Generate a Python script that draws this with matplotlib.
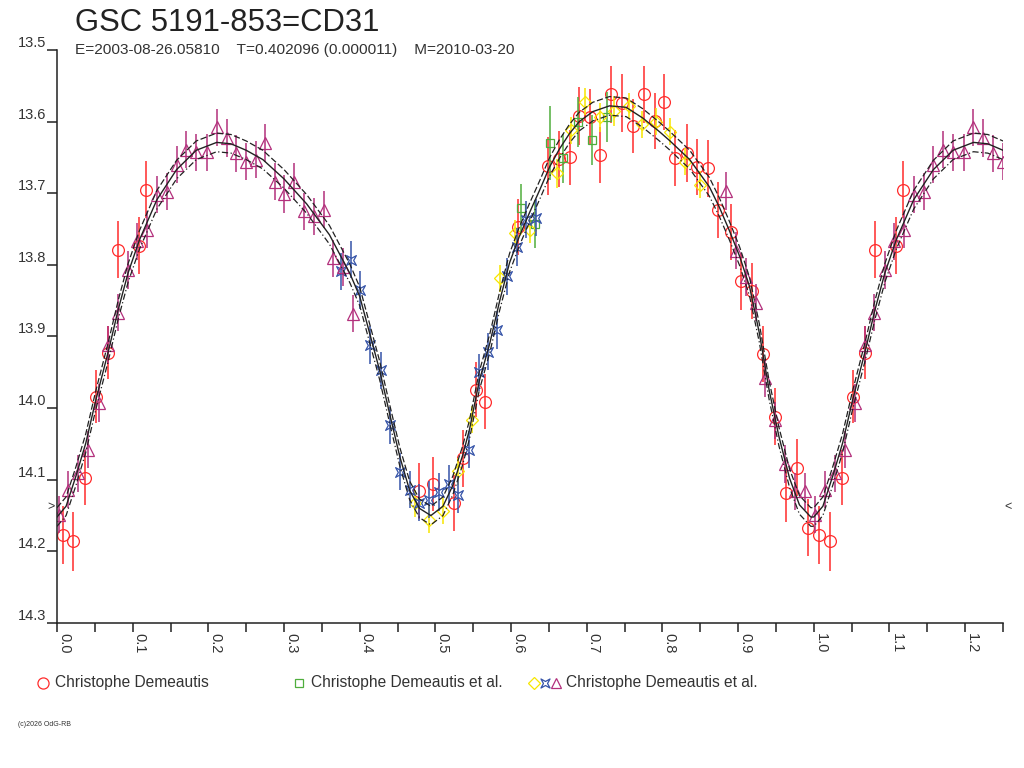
import numpy as np
import matplotlib
matplotlib.use('Agg')
import matplotlib.pyplot as plt
from matplotlib.path import Path
from matplotlib.markers import MarkerStyle

TITLE = 'GSC 5191-853=CD31'
SUBTITLE = 'E=2003-08-26.05810    T=0.402096 (0.000011)    M=2010-03-20'
COPYRIGHT = '(c)2026 OdG-RB'
OBSERVER_1 = 'Christophe Demeautis'
OBSERVER_2 = 'Christophe Demeautis et al.'
OBSERVER_3 = 'Christophe Demeautis et al.'

X_MAX = 1.25
MIN_MARK = 14.138  # the little > < marks on both sides

# model light curve (solid), phase 0..1
model_phase = [0.000, 0.012, 0.025, 0.038, 0.051, 0.068, 0.081, 0.094, 0.109, 0.132,
               0.158, 0.184, 0.211, 0.230, 0.250, 0.272, 0.300, 0.330, 0.360, 0.387,
               0.400, 0.413, 0.426, 0.440, 0.453, 0.466, 0.479, 0.494, 0.510, 0.523,
               0.536, 0.545, 0.558, 0.572, 0.585, 0.598, 0.611, 0.624, 0.638, 0.651,
               0.664, 0.677, 0.690, 0.708, 0.730, 0.752, 0.774, 0.796, 0.809, 0.836,
               0.862, 0.875, 0.888, 0.902, 0.915, 0.928, 0.941, 0.954, 0.968, 0.981,
               0.996]
model_mag = [14.152, 14.137, 14.095, 14.049, 13.990, 13.920, 13.862, 13.811, 13.765, 13.709,
             13.667, 13.640, 13.629, 13.631, 13.640, 13.653, 13.680, 13.715, 13.758, 13.812,
             13.844, 13.895, 13.946, 14.010, 14.068, 14.115, 14.140, 14.150, 14.137, 14.108,
             14.066, 14.030, 13.962, 13.909, 13.850, 13.797, 13.760, 13.728, 13.695, 13.663,
             13.638, 13.617, 13.600, 13.586, 13.578, 13.580, 13.595, 13.614, 13.626, 13.653,
             13.691, 13.719, 13.751, 13.788, 13.830, 13.895, 13.975, 14.040, 14.098, 14.135,
             14.152]
model_sigma = 0.013

# red circles
red_phase = [0.0075, 0.0215, 0.037, 0.0515, 0.067, 0.081, 0.1087, 0.1175, 0.478, 0.4964,
             0.524, 0.536, 0.553, 0.566, 0.609, 0.6486, 0.6627, 0.678, 0.690, 0.7046,
             0.718, 0.732, 0.747, 0.761, 0.775, 0.790, 0.8026, 0.816, 0.832, 0.846,
             0.860, 0.873, 0.890, 0.904, 0.919, 0.933, 0.949, 0.9633, 0.978, 0.992]
red_mag = [14.177, 14.186, 14.097, 13.984, 13.923, 13.779, 13.773, 13.695, 14.116, 14.106,
           14.133, 14.070, 13.974, 13.991, 13.747, 13.662, 13.652, 13.650, 13.592, 13.594,
           13.646, 13.562, 13.574, 13.606, 13.562, 13.599, 13.572, 13.651, 13.644, 13.663,
           13.665, 13.723, 13.754, 13.823, 13.836, 13.924, 14.012, 14.119, 14.083, 14.167]
red_err = [0.040, 0.041, 0.038, 0.037, 0.037, 0.040, 0.040, 0.040, 0.039, 0.038,
           0.039, 0.040, 0.038, 0.038, 0.039, 0.040, 0.039, 0.039, 0.040, 0.039,
           0.039, 0.040, 0.040, 0.038, 0.040, 0.039, 0.039, 0.039, 0.040, 0.039,
           0.040, 0.039, 0.039, 0.040, 0.039, 0.039, 0.040, 0.040, 0.040, 0.040]

# green squares
green_phase = [0.6134, 0.632, 0.651, 0.669, 0.689, 0.7067, 0.7265]
green_mag = [13.721, 13.743, 13.630, 13.651, 13.600, 13.626, 13.594]
green_err = [0.034, 0.034, 0.052, 0.034, 0.035, 0.035, 0.035]

# yellow diamonds
yellow_phase = [0.4726, 0.492, 0.510, 0.530, 0.549, 0.586, 0.6046, 0.6244, 0.661, 0.6795,
                0.698, 0.7177, 0.7366, 0.7555, 0.773, 0.792, 0.8106, 0.830, 0.849]
yellow_mag = [14.133, 14.156, 14.143, 14.088, 14.016, 13.819, 13.756, 13.751, 13.672, 13.612,
              13.572, 13.594, 13.585, 13.578, 13.604, 13.600, 13.614, 13.656, 13.688]
yellow_err = [0.019, 0.019, 0.019, 0.019, 0.019, 0.019, 0.019, 0.019, 0.020, 0.019,
              0.019, 0.020, 0.021, 0.018, 0.019, 0.019, 0.019, 0.019, 0.019]

# blue stars
blue_phase = [0.375, 0.388, 0.401, 0.414, 0.428, 0.440, 0.453, 0.466, 0.478, 0.4915,
              0.5047, 0.5175, 0.530, 0.544, 0.557, 0.569, 0.582, 0.595, 0.608, 0.620,
              0.633]
blue_mag = [13.809, 13.793, 13.835, 13.912, 13.947, 14.024, 14.089, 14.114, 14.132, 14.128,
            14.117, 14.106, 14.121, 14.058, 13.950, 13.921, 13.891, 13.816, 13.775, 13.737,
            13.734]
blue_err = [0.026, 0.026, 0.026, 0.026, 0.026, 0.026, 0.026, 0.026, 0.026, 0.026,
            0.026, 0.026, 0.026, 0.026, 0.026, 0.026, 0.026, 0.026, 0.026, 0.026,
            0.026]

# purple triangles
purple_phase = [0.002, 0.015, 0.028, 0.041, 0.055, 0.068, 0.080, 0.094, 0.106, 0.119,
                0.132, 0.145, 0.158, 0.171, 0.184, 0.198, 0.211, 0.224, 0.237, 0.250,
                0.263, 0.275, 0.288, 0.300, 0.313, 0.3265, 0.340, 0.353, 0.365, 0.378,
                0.391, 0.884, 0.897, 0.910, 0.9237, 0.936, 0.949, 0.962, 0.9756, 0.9888]
purple_mag = [14.149, 14.114, 14.091, 14.058, 13.993, 13.912, 13.867, 13.807, 13.767, 13.751,
              13.702, 13.698, 13.660, 13.639, 13.643, 13.643, 13.608, 13.623, 13.644, 13.656,
              13.653, 13.630, 13.684, 13.701, 13.684, 13.725, 13.732, 13.723, 13.791, 13.803,
              13.868, 13.697, 13.780, 13.817, 13.853, 13.958, 14.017, 14.078, 14.116, 14.116]
purple_err = [0.026, 0.026, 0.026, 0.026, 0.026, 0.026, 0.026, 0.026, 0.026, 0.026,
              0.026, 0.026, 0.026, 0.026, 0.026, 0.026, 0.026, 0.026, 0.026, 0.026,
              0.026, 0.026, 0.026, 0.026, 0.026, 0.026, 0.026, 0.026, 0.026, 0.026,
              0.026, 0.026, 0.026, 0.026, 0.026, 0.026, 0.026, 0.026, 0.026, 0.026]

RED = '#ff2b2b'
GREEN = '#4fae3c'
YELLOW = '#f7e600'
BLUE = '#3553a8'
PURPLE = '#b3307c'
INK = '#222222'

star_path = Path([(1, 1), (0, 0.45), (-1, 1), (-0.45, 0), (-1, -1), (0, -0.45),
                  (1, -1), (0.45, 0), (1, 1)], closed=True)
STAR = MarkerStyle(star_path)


def fold(phase, *cols):
    # the chart repeats phases 0..0.25 after 1.0
    phase = np.asarray(phase)
    keep = phase + 1 <= X_MAX + 0.001
    out = [np.concatenate([phase, phase[keep] + 1])]
    for c in cols:
        c = np.asarray(c)
        out.append(np.concatenate([c, c[keep]]))
    return out


plt.rcParams['font.family'] = ['Liberation Sans', 'DejaVu Sans']

fig = plt.figure(figsize=(10.24, 7.68), dpi=100)
ax = fig.add_axes([57 / 1024, 1 - 623 / 768, 946 / 1024, 573 / 768])

series = [
    (red_phase, red_mag, red_err, RED, 'o', 8.5),
    (green_phase, green_mag, green_err, GREEN, 's', 6),
    (yellow_phase, yellow_mag, yellow_err, YELLOW, 'D', 6.5),
    (blue_phase, blue_mag, blue_err, BLUE, STAR, 7),
    (purple_phase, purple_mag, purple_err, PURPLE, '^', 8.5),
]
for ph, mg, er, col, mk, ms in series:
    x, y, e = fold(ph, mg, er)
    ax.errorbar(x, y, yerr=e, fmt='none', ecolor=col, elinewidth=1.1, capsize=0, zorder=2)
    ax.plot(x, y, linestyle='none', marker=mk, markersize=ms, mfc='none',
            mec=col, mew=0.9, zorder=2)

mx, my = fold(model_phase, model_mag)
order = np.argsort(mx)
mx, my = mx[order], my[order]
# include the curve beyond 0.25 for the right edge, the axes clip it
extra = (np.asarray(model_phase) > 0.25) & (np.asarray(model_phase) < 0.3)
mx = np.concatenate([mx, np.asarray(model_phase)[extra] + 1])
my = np.concatenate([my, np.asarray(model_mag)[extra]])
ax.plot(mx, my, color=INK, lw=1.0, zorder=3)
ax.plot(mx, my - model_sigma, color=INK, lw=0.9, ls=(0, (5, 2)), zorder=3)
ax.plot(mx, my + model_sigma, color=INK, lw=0.9, ls=(0, (5, 2, 1, 2)), zorder=3)

ax.set_xlim(0, X_MAX)
ax.set_ylim(14.3, 13.5)

for s in ['top', 'right']:
    ax.spines[s].set_visible(False)
for s in ['left', 'bottom']:
    ax.spines[s].set_linewidth(1.1)
    ax.spines[s].set_color(INK)

ax.set_yticks(np.round(np.arange(13.5, 14.31, 0.1), 1))
ax.set_yticklabels(['%.1f' % v for v in np.arange(13.5, 14.31, 0.1)])
ax.set_xticks(np.round(np.arange(0, 1.21, 0.1), 1))
ax.set_xticklabels(['%.1f' % v for v in np.arange(0, 1.21, 0.1)])
ax.set_xticks(np.arange(0.05, 1.26, 0.1), minor=True)

ax.tick_params(axis='y', direction='out', length=7.5, width=1.1, pad=0,
               labelsize=10.5, labelcolor='#333333', color=INK)
ax.tick_params(axis='x', which='both', direction='out', length=6.5, width=1.1, pad=1,
               labelsize=10.5, labelcolor='#333333', color=INK)
for lbl in ax.get_yticklabels():
    lbl.set_verticalalignment('bottom')
for lbl in ax.get_xticklabels():
    lbl.set_rotation(-90)
    lbl.set_horizontalalignment('left')
    lbl.set_verticalalignment('top')

ax.text(-0.003, MIN_MARK, '>', ha='right', va='center', fontsize=9,
        color='#333333', clip_on=False)
ax.text(X_MAX + 0.002, MIN_MARK, '<', ha='left', va='center', fontsize=9,
        color='#333333', clip_on=False)

fig.text(75 / 1024, 1 - 31 / 768, TITLE, fontsize=22.3, color=INK, va='baseline')
fig.text(75 / 1024, 1 - 54 / 768, SUBTITLE, fontsize=11.1, color='#333333', va='baseline')

# legend drawn by hand below the axes
lg = fig.add_axes([0, 0, 1, 1], facecolor='none')
lg.set_xlim(0, 1024)
lg.set_ylim(768, 0)
lg.axis('off')
ly = 683
lg.plot([43], [ly], marker='o', ms=8, mfc='none', mec=RED, mew=0.9)
lg.plot([299], [ly], marker='s', ms=6, mfc='none', mec=GREEN, mew=0.9)
lg.plot([534], [ly], marker='D', ms=6, mfc='none', mec=YELLOW, mew=0.9)
lg.plot([545], [ly], marker=STAR, ms=6.5, mfc='none', mec=BLUE, mew=0.9)
lg.plot([556], [ly], marker='^', ms=7.5, mfc='none', mec=PURPLE, mew=0.9)
lg.text(55, ly, OBSERVER_1, fontsize=11.2, color='#333333', va='center')
lg.text(311, ly, OBSERVER_2, fontsize=11.2, color='#333333', va='center')
lg.text(566, ly, OBSERVER_3, fontsize=11.2, color='#333333', va='center')
lg.text(18, 725, COPYRIGHT, fontsize=5, color='#333333', va='center')

fig.savefig('out.png', dpi=100)
